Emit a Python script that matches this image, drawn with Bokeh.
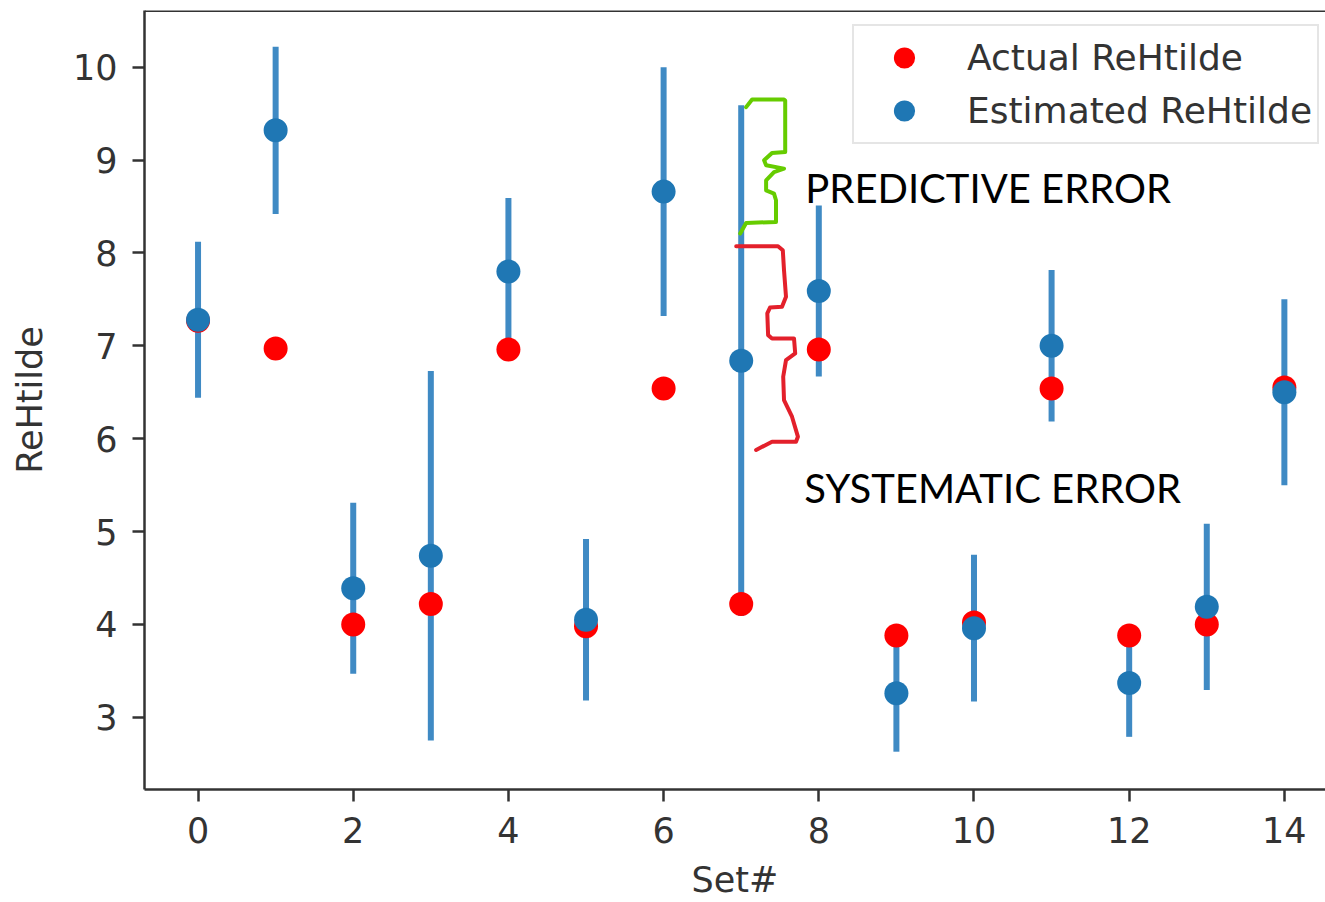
import numpy as np
from bokeh.plotting import figure
from bokeh.models import (ColumnDataSource, Range1d, FixedTicker, Legend,
                          LegendItem, Span, Label)
from bokeh.embed import file_html
from bokeh.resources import INLINE

# ---------------- data ----------------
sets = list(range(15))
actual = [7.27, 6.97, 4.00, 4.22, 6.96, 3.98, 6.54, 4.22, 6.96, 3.88,
          4.02, 6.54, 3.88, 4.00, 6.55]
estimated = [7.28, 9.32, 4.39, 4.74, 7.80, 4.05, 8.66, 6.84, 7.59, 3.26,
             3.96, 7.00, 3.37, 4.19, 6.50]
errors = [0.84, 0.90, 0.92, 1.99, 0.79, 0.87, 1.34, 2.75, 0.92, 0.63,
          0.79, 0.815, 0.58, 0.895, 1.00]
x_ticks = [0, 2, 4, 6, 8, 10, 12, 14]
y_ticks = [3, 4, 5, 6, 7, 8, 9, 10]

# hand-drawn braces (annotation shapes, reference image pixels)
green_brace_px = [(745.8, 106.7), (751.8, 99), (783.7, 99), (784.9, 100),
                  (784.9, 151.7), (771.7, 152.7), (763.8, 160), (765.8, 165),
                  (783.7, 168.3), (773.7, 171.7), (765.8, 180), (765.8, 190),
                  (773.7, 193.3), (775.7, 200), (775.7, 221.7), (745.8, 222.7),
                  (739.9, 233.3)]
red_brace_px = [(735.9, 246), (777.7, 246), (782.5, 250), (783.7, 270),
                (785.7, 296.7), (781.7, 306.7), (769.7, 307.3), (767, 313.3),
                (767.8, 335), (771.7, 338.3), (793.7, 338.3), (794.9, 353.3),
                (785.7, 360), (782.9, 376.7), (783.7, 400), (791.7, 416.7),
                (797.6, 436.7), (795.7, 441.7), (771.7, 441.7), (755.8, 450)]

X0_PX, X_SCALE = 197.7, 77.6
Y10_PX, Y_SCALE = 66.7, 93.0


def px_to_data(pts):
    xs = [(px - X0_PX) / X_SCALE for px, _ in pts]
    ys = [10 - (py - Y10_PX) / Y_SCALE for _, py in pts]
    return xs, ys


# ---------------- figure ----------------
FONT = "DejaVu Sans"
TXT = "#333333"
SPINE = "#333333"

p = figure(width=1325, height=902, output_backend="svg", toolbar_location=None,
           x_range=Range1d(-0.69, 14.53), y_range=Range1d(2.223, 10.61),
           min_border_left=144, min_border_right=0, min_border_top=10,
           min_border_bottom=112)
p.outline_line_color = None
p.grid.visible = False
p.background_fill_color = "white"
p.border_fill_color = "white"

for ax in (p.xaxis[0], p.yaxis[0]):
    ax.axis_line_color = SPINE
    ax.axis_line_width = 2.5
    ax.major_tick_line_color = SPINE
    ax.major_tick_line_width = 2.5
    ax.major_tick_out = 12
    ax.major_tick_in = 0
    ax.minor_tick_line_color = None
    ax.major_label_text_font = FONT
    ax.major_label_text_font_size = "35px"
    ax.major_label_text_color = TXT
    ax.axis_label_text_font = FONT
    ax.axis_label_text_font_size = "35px"
    ax.axis_label_text_color = TXT
    ax.axis_label_text_font_style = "normal"

p.xaxis.ticker = FixedTicker(ticks=x_ticks)
p.yaxis.ticker = FixedTicker(ticks=y_ticks)
p.xaxis.major_label_standoff = 15
p.yaxis.major_label_standoff = 15
p.xaxis.axis_label = "Set#"
p.yaxis.axis_label = "ReHtilde"
p.xaxis.axis_label_standoff = 14
p.yaxis.axis_label_standoff = 20

# top spine
p.add_layout(Span(location=10.61, dimension="width", line_color=SPINE,
                  line_width=3))

# ---------------- data glyphs ----------------
est = np.array(estimated)
err = np.array(errors)
src = ColumnDataSource(dict(x=sets, actual=actual, est=est,
                            lo=est - err, hi=est + err))

p.segment(x0="x", x1="x", y0="lo", y1="hi", source=src,
          line_color="#3f8ac4", line_width=6, line_cap="butt")
r_red = p.scatter(x="x", y="actual", source=src, size=24,
                  fill_color="#ff0000", line_color=None)
r_blue = p.scatter(x="x", y="est", source=src, size=24,
                   fill_color="#1f77b4", line_color=None)

# ---------------- legend ----------------
legend = Legend(items=[LegendItem(label="Actual ReHtilde", renderers=[r_red]),
                       LegendItem(label="Estimated ReHtilde", renderers=[r_blue])],
                location=(708, 645), margin=0, padding=5, spacing=0,
                glyph_width=90, glyph_height=53, label_height=53,
                label_standoff=18, label_text_font=FONT,
                label_text_font_size="36px", label_text_color=TXT,
                label_text_baseline="middle",
                border_line_color="#cccccc", border_line_width=2,
                background_fill_color="white", background_fill_alpha=0.8)
p.add_layout(legend)

# ---------------- annotations ----------------
gx, gy = px_to_data(green_brace_px)
rx, ry = px_to_data(red_brace_px)
p.line(gx, gy, line_color="#66cc00", line_width=4, line_join="round",
       line_cap="round")
p.line(rx, ry, line_color="#e3202b", line_width=4, line_join="round",
       line_cap="round")

p.add_layout(Label(x=(805 - X0_PX) / X_SCALE, y=10 - (188 - Y10_PX) / Y_SCALE,
                   text="PREDICTIVE ERROR", text_font="Lato",
                   text_font_size="40px", text_color="black",
                   text_baseline="alphabetic", text_align="left"))
p.add_layout(Label(x=(804 - X0_PX) / X_SCALE, y=10 - (488 - Y10_PX) / Y_SCALE,
                   text="SYSTEMATIC ERROR", text_font="Lato",
                   text_font_size="40px", text_color="black",
                   text_baseline="alphabetic", text_align="left"))

open("out.html", "w").write(file_html(p, INLINE))
